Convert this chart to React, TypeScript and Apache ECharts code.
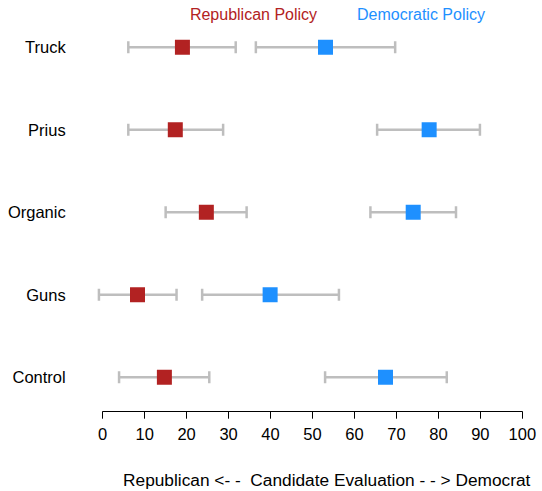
import React, { useEffect, useRef } from "react";
import * as echarts from "echarts";

const categories = ["Truck", "Prius", "Organic", "Guns", "Control"];
const repMean = [19.0, 17.3, 24.7, 8.3, 14.7];
const repLow = [6.1, 6.1, 15.0, -0.9, 3.9];
const repHigh = [31.7, 28.7, 34.3, 17.6, 25.4];
const demMean = [53.1, 77.8, 74.0, 39.9, 67.4];
const demLow = [36.5, 65.4, 63.8, 23.7, 53.0];
const demHigh = [69.7, 89.9, 84.2, 56.3, 82.0];
const xTicks = [0, 10, 20, 30, 40, 50, 60, 70, 80, 90, 100];

const RED = "#B22222";
const BLUE = "#1E90FF";
const GRAY = "#BEBEBE";
const FONT = "'Liberation Sans', Arial, Helvetica, sans-serif";

function errorRender(params: any, api: any) {
  const lo = api.coord([api.value(0), api.value(2)]);
  const hi = api.coord([api.value(1), api.value(2)]);
  const cap = 6;
  const style = { stroke: GRAY, lineWidth: 2.5 };
  return {
    type: "group",
    children: [
      { type: "line", shape: { x1: lo[0], y1: lo[1], x2: hi[0], y2: hi[1] }, style },
      { type: "line", shape: { x1: lo[0], y1: lo[1] - cap, x2: lo[0], y2: lo[1] + cap }, style },
      { type: "line", shape: { x1: hi[0], y1: hi[1] - cap, x2: hi[0], y2: hi[1] + cap }, style },
    ],
  };
}

export default function App() {
  const ref = useRef<HTMLDivElement>(null);
  useEffect(() => {
    if (!ref.current) return;
    const chart = echarts.init(ref.current, undefined, { renderer: "svg" });
    const repErr = categories.map((c, i) => [repLow[i], repHigh[i], i]);
    const demErr = categories.map((c, i) => [demLow[i], demHigh[i], i]);
    chart.setOption({
      animation: false,
      backgroundColor: "#ffffff",
      textStyle: { fontFamily: FONT },
      grid: { left: 102.7, right: 19.7, top: 6, height: 412.5 },
      xAxis: {
        type: "value",
        min: xTicks[0],
        max: xTicks[xTicks.length - 1],
        interval: 10,
        offset: -6.8,
        splitLine: { show: false },
        axisLine: { show: true, lineStyle: { color: "#000", width: 1 } },
        axisTick: { show: true, length: 7, lineStyle: { color: "#000" } },
        axisLabel: { color: "#000", fontSize: 16.5, margin: 14, fontFamily: FONT },
      },
      yAxis: {
        type: "category",
        data: categories,
        inverse: true,
        axisLine: { show: false },
        axisTick: { show: false },
        splitLine: { show: false },
        axisLabel: { color: "#000", fontSize: 16.5, margin: 37, fontFamily: FONT },
      },
      graphic: [
        {
          type: "text",
          x: 253.5,
          y: 14,
          style: { text: "Republican Policy", fill: RED, font: `16px ${FONT}`, align: "center", verticalAlign: "middle" },
        },
        {
          type: "text",
          x: 421,
          y: 14,
          style: { text: "Democratic Policy", fill: BLUE, font: `16px ${FONT}`, align: "center", verticalAlign: "middle" },
        },
        {
          type: "text",
          x: 326.7,
          y: 480,
          style: {
            text: "Republican <- -  Candidate Evaluation - - > Democrat",
            fill: "#000",
            font: `17.3px ${FONT}`,
            align: "center",
            verticalAlign: "middle",
          },
        },
      ],
      series: [
        { type: "custom", renderItem: errorRender, data: repErr, encode: { x: [0, 1], y: 2 }, clip: false, z: 1 },
        { type: "custom", renderItem: errorRender, data: demErr, encode: { x: [0, 1], y: 2 }, clip: false, z: 1 },
        {
          type: "scatter",
          symbol: "rect",
          symbolSize: 15,
          itemStyle: { color: RED, opacity: 1 },
          data: categories.map((c, i) => [repMean[i], i]),
          z: 3,
        },
        {
          type: "scatter",
          symbol: "rect",
          symbolSize: 15,
          itemStyle: { color: BLUE, opacity: 1 },
          data: categories.map((c, i) => [demMean[i], i]),
          z: 3,
        },
      ],
    });
    return () => chart.dispose();
  }, []);
  return <div ref={ref} style={{ position: "fixed", left: 0, top: 0, width: 542, height: 491 }} />;
}
